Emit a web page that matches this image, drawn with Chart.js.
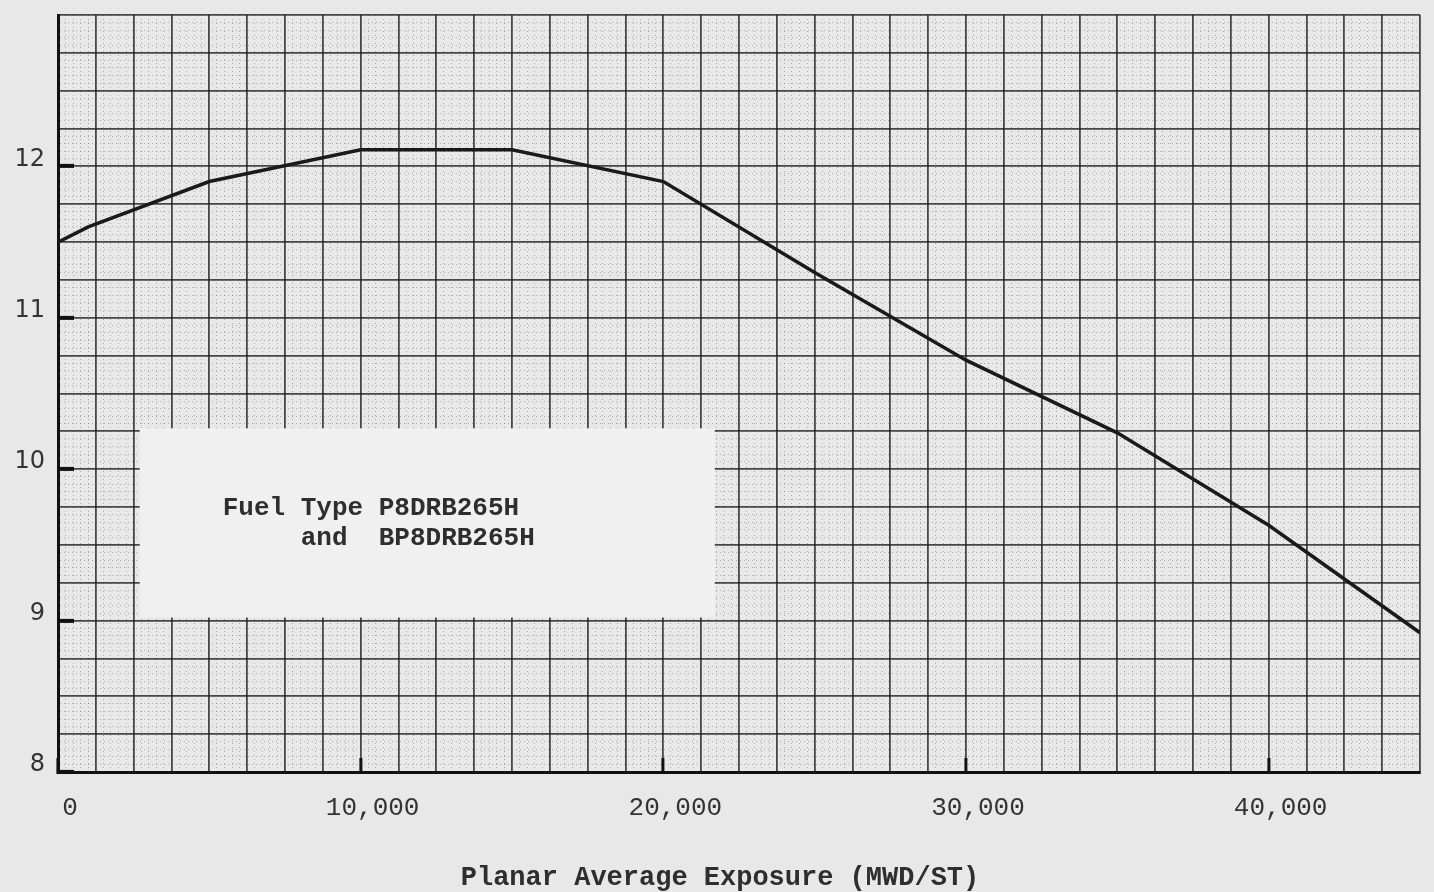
<!DOCTYPE html>
<html>
<head>
<meta charset="utf-8">
<script src="https://cdn.jsdelivr.net/npm/chart.js@4.4.1/dist/chart.umd.min.js"></script>
<style>
html,body{margin:0;padding:0;background:#e8e8e8;}
#wrap{width:1434px;height:892px;}
canvas{display:block;}
</style>
</head>
<body>
<div id="wrap"><canvas id="c" width="1434" height="892"></canvas></div>
<script>
// ---- data ----
const exposure = [0, 1000, 5000, 10000, 15000, 20000, 25000, 30000, 35000, 40000, 45000];
const limitValues = [11.5, 11.6, 11.9, 12.11, 12.11, 11.9, 11.3, 10.72, 10.24, 9.63, 8.92];

const xTickValues = [0, 10000, 20000, 30000, 40000];
const xTickLabels = ['0', '10,000', '20,000', '30,000', '40,000'];
const yTickValues = [8, 9, 10, 11, 12];
const yTickLabels = ['8', '9', '10', '11', '12'];

const xAxisTitle = 'Planar Average Exposure (MWD/ST)';
const noteLines = ['Fuel Type P8DRB265H', '     and  BP8DRB265H'];
const noteBox = {x0: 2700, x1: 21700, yTop: 10.27, yBottom: 9.02};

// ---- styling helpers ----
const MONO = "'Liberation Mono', 'DejaVu Sans Mono', monospace";
const isMajorX = v => Math.abs(v % 1250) < 1e-6;
const isMajorY = v => Math.abs(v * 4 - Math.round(v * 4)) < 1e-6;
const isLabelX = v => xTickValues.indexOf(v) >= 0;
const isLabelY = v => yTickValues.some(t => Math.abs(t - v) < 1e-6);

function zeroPad(s) { s.paddingLeft = 0; s.paddingRight = 0; s.paddingTop = 0; s.paddingBottom = 0; }

const notePlugin = {
  id: 'note',
  beforeDatasetsDraw(chart) {
    const {ctx, scales: {x, y}} = chart;
    const l = x.getPixelForValue(noteBox.x0), r = x.getPixelForValue(noteBox.x1);
    const t = y.getPixelForValue(noteBox.yTop), b = y.getPixelForValue(noteBox.yBottom);
    ctx.save();
    ctx.fillStyle = '#f0f0f0';
    ctx.fillRect(l, t, r - l, b - t);
    ctx.fillStyle = '#2e2e2e';
    ctx.font = 'bold 26px ' + MONO;
    ctx.textBaseline = 'alphabetic';
    ctx.textAlign = 'left';
    ctx.fillText(noteLines[0], l + 83, t + 87);
    ctx.fillText(noteLines[1], l + 83, t + 117);
    ctx.restore();
  },
  afterDraw(chart) {
    const {ctx} = chart;
    ctx.save();
    ctx.fillStyle = '#2e2e2e';
    ctx.font = 'bold 27px ' + MONO;
    ctx.textBaseline = 'middle';
    ctx.textAlign = 'center';
    ctx.fillText(xAxisTitle, 720, 878);
    ctx.restore();
  }
};

const bgPlugin = {
  id: 'bg',
  beforeDraw(chart) {
    const {ctx, width, height} = chart;
    ctx.save();
    ctx.fillStyle = '#e8e8e8';
    ctx.fillRect(0, 0, width, height);
    ctx.restore();
  }
};

new Chart(document.getElementById('c'), {
  type: 'line',
  data: {
    datasets: [{
      data: exposure.map((e, i) => ({x: e, y: limitValues[i]})),
      borderColor: '#1a1a1a',
      borderWidth: 3.5,
      pointRadius: 0,
      tension: 0,
      fill: false
    }]
  },
  options: {
    responsive: false,
    animation: false,
    devicePixelRatio: 1,
    layout: {padding: {top: 15, right: 14, left: 0, bottom: 0}},
    plugins: {legend: {display: false}, tooltip: {enabled: false}, title: {display: false}},
    scales: {
      x: {
        type: 'linear', min: 0, max: 45000,
        afterFit(s) { s.height = 120; zeroPad(s); },
        ticks: {
          stepSize: 250, autoSkip: false, maxRotation: 0, minRotation: 0,
          padding: 35, labelOffset: 12,
          color: '#333',
          font: {family: MONO, size: 26},
          callback(v) { const i = xTickValues.indexOf(v); return i >= 0 ? xTickLabels[i] : ''; }
        },
        grid: {
          color: c => c.tick && isMajorX(c.tick.value) ? 'rgba(30,30,30,0.8)' : 'rgba(70,70,70,0.38)',
          lineWidth: c => c.tick && isMajorX(c.tick.value) ? 1.8 : 1,
          drawTicks: true,
          tickLength: -14,
          tickWidth: c => c.tick && isLabelX(c.tick.value) ? 3 : 0,
          tickColor: c => c.tick && isLabelX(c.tick.value) ? '#111' : 'rgba(0,0,0,0)'
        },
        border: {
          color: '#111', width: 3,
          dash: c => c.tick && !isMajorX(c.tick.value) ? [1, 3] : []
        }
      },
      y: {
        type: 'linear', min: 8, max: 13,
        afterFit(s) { s.width = 58; zeroPad(s); },
        ticks: {
          stepSize: 0.05, autoSkip: false,
          padding: 29, labelOffset: -7,
          color: '#333',
          font: {family: "'DejaVu Sans', sans-serif", size: 24},
          callback(v) { const i = yTickValues.findIndex(t => Math.abs(t - v) < 1e-6); return i >= 0 ? yTickLabels[i] : ''; }
        },
        grid: {
          color: c => c.tick && isMajorY(c.tick.value) ? 'rgba(30,30,30,0.8)' : 'rgba(70,70,70,0.38)',
          lineWidth: c => c.tick && isMajorY(c.tick.value) ? 1.8 : 1,
          drawTicks: true,
          tickLength: -16,
          tickWidth: c => c.tick && isLabelY(c.tick.value) ? 4 : 0,
          tickColor: c => c.tick && isLabelY(c.tick.value) ? '#111' : 'rgba(0,0,0,0)'
        },
        border: {
          color: '#111', width: 3,
          dash: c => c.tick && !isMajorY(c.tick.value) ? [1, 3] : []
        }
      }
    }
  },
  plugins: [bgPlugin, notePlugin]
});
</script>
</body>
</html>
